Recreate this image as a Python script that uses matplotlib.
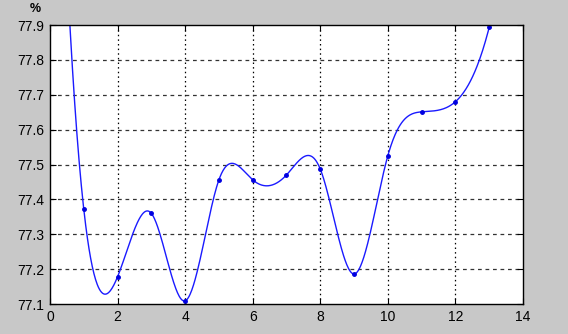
import numpy as np
import matplotlib
matplotlib.use("Agg")
import matplotlib.pyplot as plt

# measured values (x = 0 point lies above the visible range)
x_vals = [0, 1, 2, 3, 4, 5, 6, 7, 8, 9, 10, 11, 12, 13]
y_vals = [79.4, 77.372, 77.178, 77.36, 77.109, 77.456, 77.456, 77.47, 77.487,
          77.186, 77.525, 77.651, 77.68, 77.893]
x_ticks = [0, 2, 4, 6, 8, 10, 12, 14]
y_ticks = [77.1, 77.2, 77.3, 77.4, 77.5, 77.6, 77.7, 77.8, 77.9]


def spline_notaknot(x, y, xs):
    x = np.asarray(x, float)
    y = np.asarray(y, float)
    n = len(x)
    h = np.diff(x)
    d = np.diff(y) / h
    A = np.zeros((n, n))
    b = np.zeros(n)
    for i in range(1, n - 1):
        A[i, i - 1] = h[i - 1]
        A[i, i] = 2 * (h[i - 1] + h[i])
        A[i, i + 1] = h[i]
        b[i] = 6 * (d[i] - d[i - 1])
    # not-a-knot ends
    A[0, 0], A[0, 1], A[0, 2] = h[1], -(h[0] + h[1]), h[0]
    A[-1, -3], A[-1, -2], A[-1, -1] = h[-1], -(h[-2] + h[-1]), h[-2]
    M = np.linalg.solve(A, b)
    idx = np.clip(np.searchsorted(x, xs) - 1, 0, n - 2)
    t0 = xs - x[idx]
    t1 = x[idx + 1] - xs
    hi = h[idx]
    return (M[idx] * t1**3 + M[idx + 1] * t0**3) / (6 * hi) \
        + (y[idx] / hi - M[idx] * hi / 6) * t1 \
        + (y[idx + 1] / hi - M[idx + 1] * hi / 6) * t0


xs = np.linspace(x_vals[0], x_vals[-1], 800)
ys = spline_notaknot(x_vals, y_vals, xs)

plt.rcParams['font.family'] = ['Liberation Sans', 'DejaVu Sans']
fig = plt.figure(figsize=(5.68, 3.34), dpi=100, facecolor='#c8c8c8')
ax = fig.add_axes([0.0880, 0.0898, 0.8327, 0.8353])
ax.set_facecolor('white')

ax.plot(xs, ys, color='#1a1aff', lw=1.0)
ax.plot(x_vals, y_vals, '.', color='#0000e0', ms=5)

ax.set_xlim(0, 14)
ax.set_ylim(77.1, 77.9)
ax.set_xticks(x_ticks)
ax.set_yticks(y_ticks)
ax.set_xticklabels([str(v) for v in x_ticks])
ax.set_yticklabels([f"{v:.1f}" for v in y_ticks])
ax.tick_params(direction='in', length=4, labelsize=10, colors='black',
               top=True, right=True, pad=4)

for v in x_ticks[1:-1]:
    ax.axvline(v, color='black', lw=0.9, ls=(0, (1.2, 2.5)), zorder=0)
for v in y_ticks[1:-1]:
    ax.axhline(v, color='#333333', lw=0.9, ls=(0, (3, 3)), zorder=0)

for s in ax.spines.values():
    s.set_color('black')
    s.set_linewidth(1.0)

fig.text(30 / 568, 1 - 9 / 334, '%', fontsize=9, fontweight='bold',
         ha='left', va='center')

fig.savefig('out.png', dpi=100, facecolor=fig.get_facecolor())
